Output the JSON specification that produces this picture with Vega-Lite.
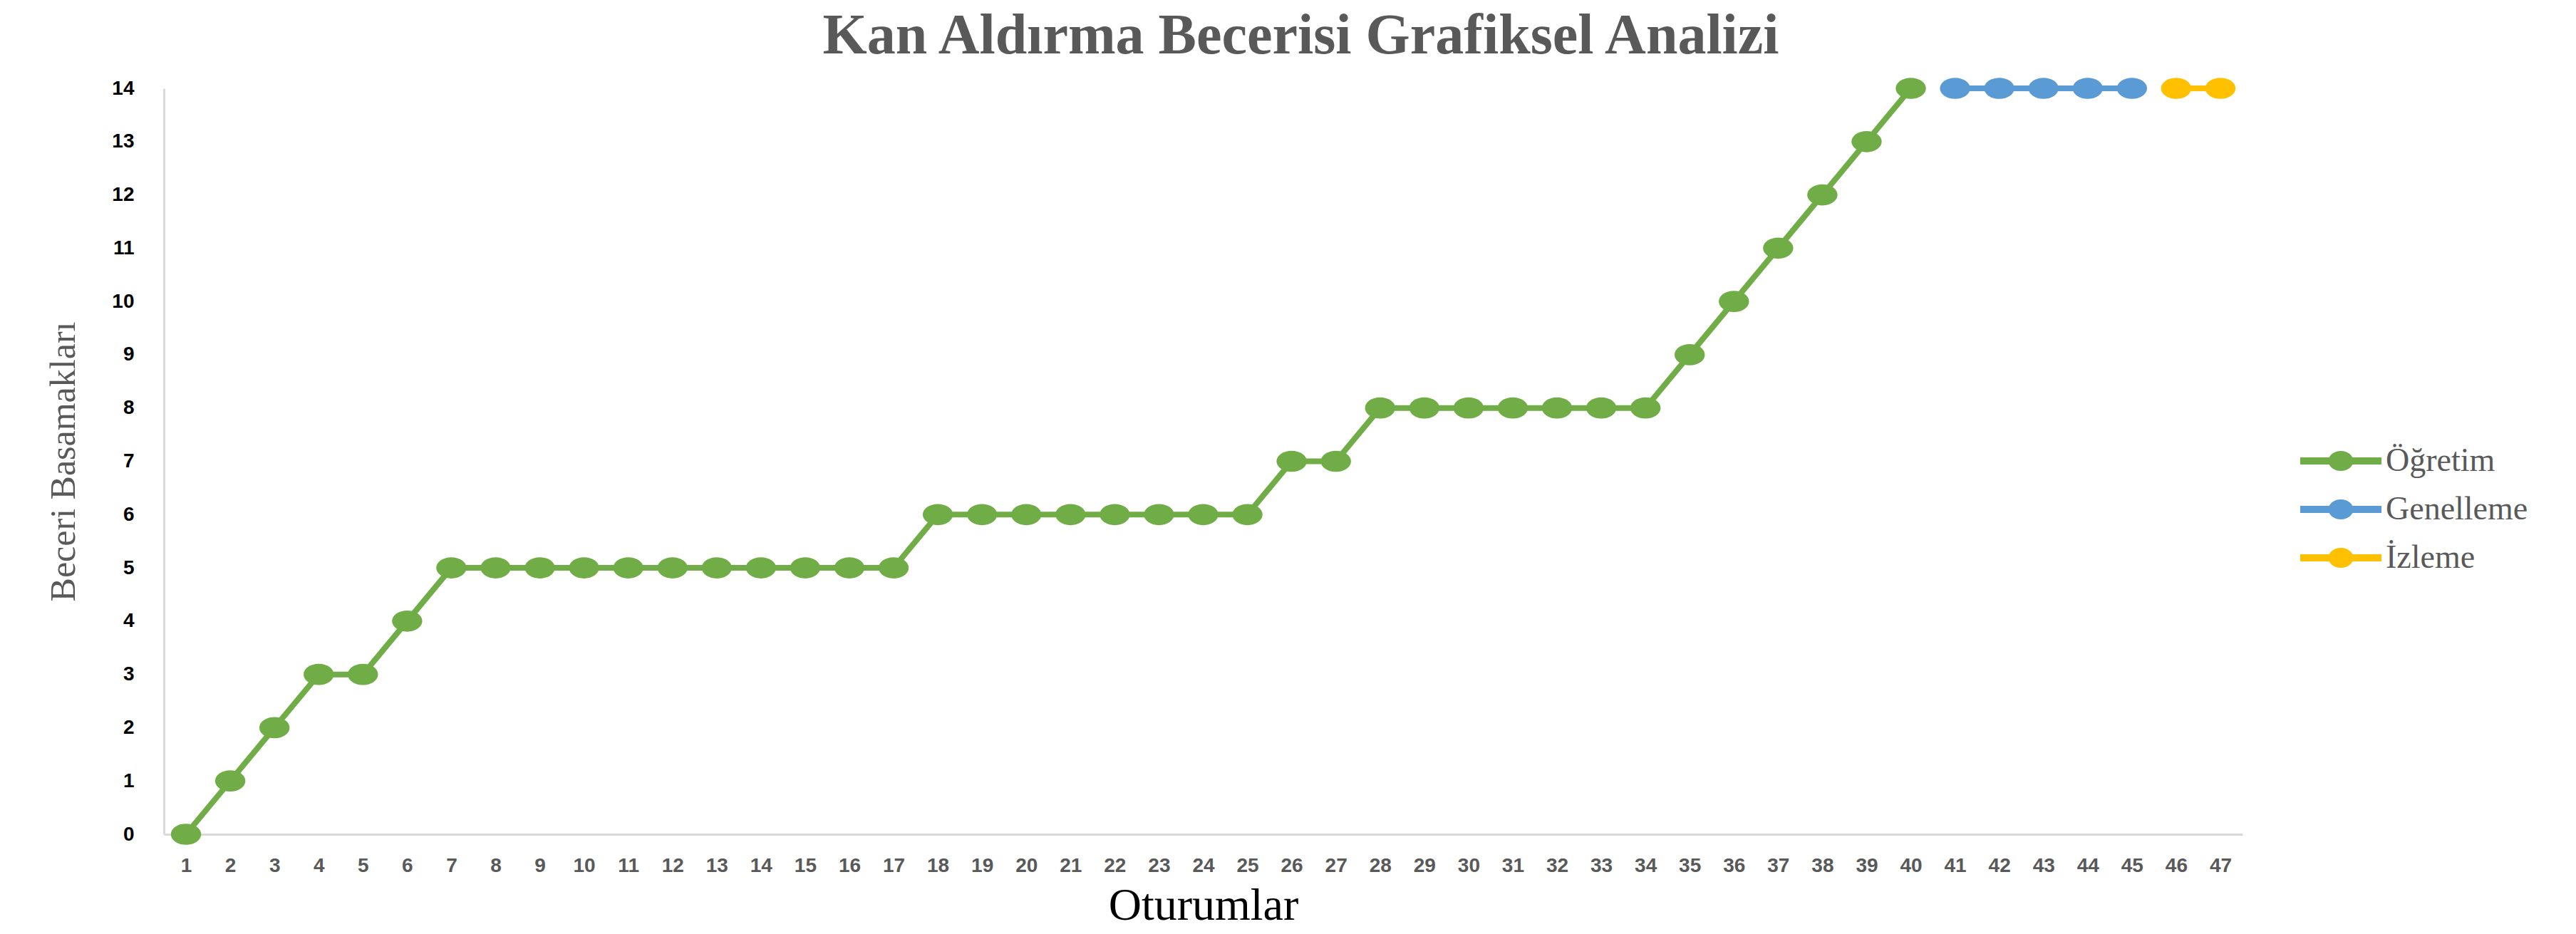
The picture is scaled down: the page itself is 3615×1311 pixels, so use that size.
{
  "$schema": "https://vega.github.io/schema/vega-lite/v6.json",
  "autosize": {"type": "none"},
  "width": 2917,
  "height": 1047,
  "padding": {"left": 230, "top": 124, "right": 468, "bottom": 140},
  "background": "white",
  "title": {
    "text": "Kan Aldırma Becerisi Grafiksel Analizi",
    "font": "Liberation Serif",
    "fontSize": 80,
    "fontWeight": "bold",
    "color": "#595959",
    "anchor": "middle",
    "dx": 137,
    "offset": 16
  },
  "data": {
    "values": [
      {"oturum": 1, "basamak": 0, "evre": "Öğretim"},
      {"oturum": 2, "basamak": 1, "evre": "Öğretim"},
      {"oturum": 3, "basamak": 2, "evre": "Öğretim"},
      {"oturum": 4, "basamak": 3, "evre": "Öğretim"},
      {"oturum": 5, "basamak": 3, "evre": "Öğretim"},
      {"oturum": 6, "basamak": 4, "evre": "Öğretim"},
      {"oturum": 7, "basamak": 5, "evre": "Öğretim"},
      {"oturum": 8, "basamak": 5, "evre": "Öğretim"},
      {"oturum": 9, "basamak": 5, "evre": "Öğretim"},
      {"oturum": 10, "basamak": 5, "evre": "Öğretim"},
      {"oturum": 11, "basamak": 5, "evre": "Öğretim"},
      {"oturum": 12, "basamak": 5, "evre": "Öğretim"},
      {"oturum": 13, "basamak": 5, "evre": "Öğretim"},
      {"oturum": 14, "basamak": 5, "evre": "Öğretim"},
      {"oturum": 15, "basamak": 5, "evre": "Öğretim"},
      {"oturum": 16, "basamak": 5, "evre": "Öğretim"},
      {"oturum": 17, "basamak": 5, "evre": "Öğretim"},
      {"oturum": 18, "basamak": 6, "evre": "Öğretim"},
      {"oturum": 19, "basamak": 6, "evre": "Öğretim"},
      {"oturum": 20, "basamak": 6, "evre": "Öğretim"},
      {"oturum": 21, "basamak": 6, "evre": "Öğretim"},
      {"oturum": 22, "basamak": 6, "evre": "Öğretim"},
      {"oturum": 23, "basamak": 6, "evre": "Öğretim"},
      {"oturum": 24, "basamak": 6, "evre": "Öğretim"},
      {"oturum": 25, "basamak": 6, "evre": "Öğretim"},
      {"oturum": 26, "basamak": 7, "evre": "Öğretim"},
      {"oturum": 27, "basamak": 7, "evre": "Öğretim"},
      {"oturum": 28, "basamak": 8, "evre": "Öğretim"},
      {"oturum": 29, "basamak": 8, "evre": "Öğretim"},
      {"oturum": 30, "basamak": 8, "evre": "Öğretim"},
      {"oturum": 31, "basamak": 8, "evre": "Öğretim"},
      {"oturum": 32, "basamak": 8, "evre": "Öğretim"},
      {"oturum": 33, "basamak": 8, "evre": "Öğretim"},
      {"oturum": 34, "basamak": 8, "evre": "Öğretim"},
      {"oturum": 35, "basamak": 9, "evre": "Öğretim"},
      {"oturum": 36, "basamak": 10, "evre": "Öğretim"},
      {"oturum": 37, "basamak": 11, "evre": "Öğretim"},
      {"oturum": 38, "basamak": 12, "evre": "Öğretim"},
      {"oturum": 39, "basamak": 13, "evre": "Öğretim"},
      {"oturum": 40, "basamak": 14, "evre": "Öğretim"},
      {"oturum": 41, "basamak": 14, "evre": "Genelleme"},
      {"oturum": 42, "basamak": 14, "evre": "Genelleme"},
      {"oturum": 43, "basamak": 14, "evre": "Genelleme"},
      {"oturum": 44, "basamak": 14, "evre": "Genelleme"},
      {"oturum": 45, "basamak": 14, "evre": "Genelleme"},
      {"oturum": 46, "basamak": 14, "evre": "İzleme"},
      {"oturum": 47, "basamak": 14, "evre": "İzleme"}
    ]
  },
  "encoding": {
    "x": {
      "field": "oturum",
      "type": "ordinal",
      "scale": {"type": "point", "padding": 0.5},
      "axis": {
        "title": "Oturumlar",
        "titleFont": "Liberation Serif",
        "titleFontSize": 64,
        "titleFontWeight": "normal",
        "titleColor": "#000000",
        "titlePadding": 10,
        "labelAngle": 0,
        "labelFont": "Liberation Sans",
        "labelFontSize": 28,
        "labelFontWeight": "bold",
        "labelColor": "#595959",
        "labelPadding": 30,
        "ticks": false,
        "domainColor": "#D9D9D9",
        "domainWidth": 3,
        "grid": false
      }
    },
    "y": {
      "field": "basamak",
      "type": "quantitative",
      "scale": {"domain": [0, 14], "nice": false},
      "axis": {
        "title": "Beceri Basamakları",
        "titleFont": "Liberation Serif",
        "titleFontSize": 50,
        "titleFontWeight": "normal",
        "titleColor": "#595959",
        "titlePadding": 42,
        "values": [0, 1, 2, 3, 4, 5, 6, 7, 8, 9, 10, 11, 12, 13, 14],
        "labelFont": "Liberation Sans",
        "labelFontSize": 28,
        "labelFontWeight": "bold",
        "labelColor": "#000000",
        "labelPadding": 42,
        "ticks": false,
        "domainColor": "#D9D9D9",
        "domainWidth": 3,
        "grid": false
      }
    },
    "color": {
      "field": "evre",
      "type": "nominal",
      "sort": ["Öğretim", "Genelleme", "İzleme"],
      "scale": {
        "domain": ["Öğretim", "Genelleme", "İzleme"],
        "range": ["#70AD47", "#5B9BD5", "#FFC000"]
      },
      "legend": {
        "title": null,
        "orient": "none",
        "legendX": 3030,
        "legendY": 498,
        "padding": 0,
        "symbolType": "M-2.28,-0.2L2.28,-0.2L2.28,0.2L-2.28,0.2Z M-0.7,0A0.7,0.56 0 1,1 0.7,0A0.7,0.56 0 1,1 -0.7,0Z",
        "symbolSize": 2500,
        "symbolStrokeWidth": 0,
        "symbolOpacity": 1,
        "labelFont": "Liberation Serif",
        "labelFontSize": 46,
        "labelColor": "#595959",
        "labelOffset": 38,
        "labelLimit": 0,
        "rowPadding": 20
      }
    }
  },
  "layer": [
    {
      "mark": {"type": "line", "strokeWidth": 8}
    },
    {
      "mark": {
        "type": "point",
        "filled": true,
        "opacity": 1,
        "size": 1800,
        "shape": "M-1,0A1,0.7 0 1,1 1,0A1,0.7 0 1,1 -1,0Z"
      }
    }
  ],
  "config": {
    "view": {"stroke": null}
  }
}
